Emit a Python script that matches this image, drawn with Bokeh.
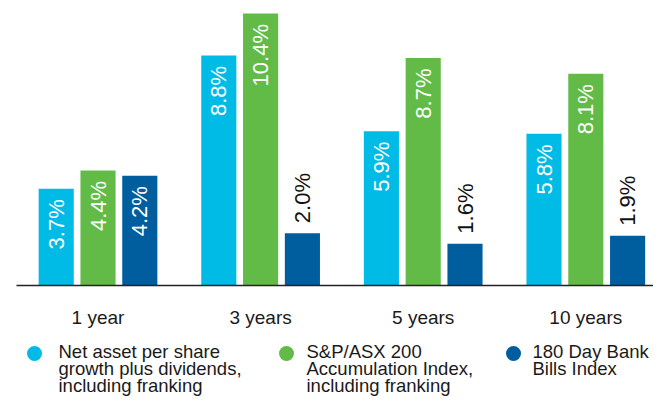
import math
from bokeh.plotting import figure
from bokeh.models import Range1d, ColumnDataSource
from bokeh.core.properties import value
from bokeh.embed import file_html
from bokeh.resources import INLINE

# ---- data ----
categories = ["1 year", "3 years", "5 years", "10 years"]
series_names = [
    "Net asset per share\ngrowth plus dividends,\nincluding franking",
    "S&P/ASX 200\nAccumulation Index,\nincluding franking",
    "180 Day Bank\nBills Index",
]
nav_growth = [3.7, 8.8, 5.9, 5.8]
asx200 = [4.4, 10.4, 8.7, 8.1]
bank_bills = [4.2, 2.0, 1.6, 1.9]

# ---- styling / layout ----
colors = ["#00BBE6", "#62BB47", "#005D9E"]
FONT = value("Liberation Sans")
PX_X = 41.8     # pixels per x unit
PX_Y = 26.15    # pixels per percent
GROUP_STEP = 3.89
BAR_W = 0.84
W, H = 653, 398
x0 = -97.5 / PX_X
y_top = 285 / PX_Y
y_bot = y_top - H / PX_Y

p = figure(width=W, height=H, output_backend="svg", toolbar_location=None,
           x_range=Range1d(x0, x0 + W / PX_X), y_range=Range1d(y_bot, y_top),
           x_axis_type=None, y_axis_type=None, min_border=0)
p.outline_line_color = None
p.background_fill_color = "white"
p.border_fill_color = "white"

series = [nav_growth, asx200, bank_bills]
in_off = 10.5 / PX_Y
out_off = 10.0 / PX_Y
for si, vals in enumerate(series):
    xs = [gi * GROUP_STEP + (si - 1) for gi in range(len(categories))]
    src = ColumnDataSource(dict(x=xs, top=vals))
    p.vbar(x="x", top="top", bottom=0, width=BAR_W, source=src,
           fill_color=colors[si], line_color=None)
    ins = [(x, v) for x, v in zip(xs, vals) if v >= 3]
    outs = [(x, v) for x, v in zip(xs, vals) if v < 3]
    if ins:
        p.text(x=[a for a, _ in ins], y=[b - in_off for _, b in ins],
               text=[f"{b:.1f}%" for _, b in ins], angle=math.pi / 2,
               text_align="right", text_baseline="middle",
               text_color="white", text_font=FONT, text_font_size="22px")
    if outs:
        p.text(x=[a for a, _ in outs], y=[b + out_off for _, b in outs],
               text=[f"{b:.1f}%" for _, b in outs], angle=math.pi / 2,
               text_align="left", text_baseline="middle",
               text_color="#111111", text_font=FONT, text_font_size="22px")


def px_to_x(px):
    return px / PX_X + x0


def py_to_y(py):
    return (285 - py) / PX_Y


# baseline
p.segment(x0=[px_to_x(16)], y0=[0], x1=[x0 + W / PX_X], y1=[0],
          line_color="#222222", line_width=1.6)

# category labels
p.text(x=[gi * GROUP_STEP for gi in range(len(categories))],
       y=[py_to_y(317)] * len(categories), text=categories,
       text_align="center", text_baseline="middle",
       text_color="#1a1a1a", text_font=FONT, text_font_size="19px")

# legend
dot_px = [34, 286, 513]
txt_px = [58, 306, 532]
p.scatter(x=[px_to_x(v) for v in dot_px], y=[py_to_y(353)] * 3,
          size=15, marker="circle", fill_color=colors, line_color=None)
for si, name in enumerate(series_names):
    lines = name.split("\n")
    p.text(x=[px_to_x(txt_px[si])] * len(lines),
           y=[py_to_y(351 + 17 * k) for k in range(len(lines))],
           text=lines, text_align="left", text_baseline="middle",
           text_color="#1a1a1a", text_font=FONT, text_font_size="18.5px")

open("out.html", "w").write(file_html(p, INLINE))
